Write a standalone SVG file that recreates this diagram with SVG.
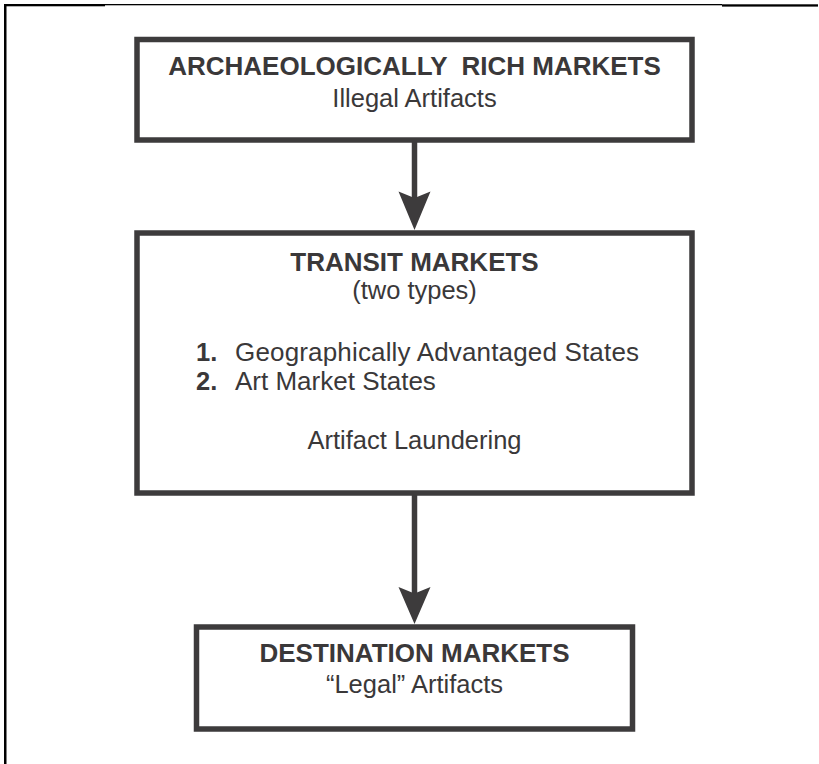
<svg xmlns="http://www.w3.org/2000/svg" width="819" height="764" viewBox="0 0 819 764">
<style>
.box{fill:#fff;stroke:#3d3b3c;stroke-width:5.5}
.b{font-family:"Liberation Sans",Arial,sans-serif;font-weight:bold;font-size:26px;fill:#3a3839;text-anchor:middle}
.n{font-family:"Liberation Sans",Arial,sans-serif;font-size:25.5px;fill:#3a3839;text-anchor:middle}
.l{font-family:"Liberation Sans",Arial,sans-serif;font-size:26px;fill:#3a3839}
.lb{font-family:"Liberation Sans",Arial,sans-serif;font-size:25.5px;font-weight:bold;fill:#3a3839}
.stem{stroke:#3d3b3c;stroke-width:5.5}
.head{fill:#3d3b3c}
</style>
<rect width="819" height="764" fill="#fff"/>
<g id="frame" fill="#000">
<rect x="4" y="4" width="2.5" height="760"/>
<rect x="4" y="4" width="101" height="2.3"/>
<rect x="105" y="4" width="617" height="1.3"/>
<rect x="722" y="4.3" width="96" height="2.3"/>
</g>
<g id="connectors">
<line class="stem" x1="414.5" y1="140" x2="414.5" y2="200"/>
<polygon class="head" points="414.5,230 398.5,191.5 414.5,198 430.5,191.5"/>
<line class="stem" x1="414.5" y1="493" x2="414.5" y2="595"/>
<polygon class="head" points="414.5,624 398.5,587 414.5,593.5 430.5,587"/>
</g>
<g id="node-archaeologically-rich">
<rect class="box" x="137" y="39.5" width="555" height="100.5"/>
<text class="b" x="414.5" y="75" style="white-space:pre">ARCHAEOLOGICALLY  RICH MARKETS</text>
<text class="n" x="414.5" y="107">Illegal Artifacts</text>
</g>
<g id="node-transit">
<rect class="box" x="137" y="233" width="555" height="260"/>
<text class="b" x="414.5" y="271">TRANSIT MARKETS</text>
<text class="n" x="414.5" y="299">(two types)</text>
<text class="lb" x="196" y="361">1.</text>
<text class="l" x="235" y="361" textLength="404" lengthAdjust="spacing">Geographically Advantaged States</text>
<text class="lb" x="196" y="390">2.</text>
<text class="l" x="235" y="390">Art Market States</text>
<text class="n" x="414.5" y="449">Artifact Laundering</text>
</g>
<g id="node-destination">
<rect class="box" x="196.5" y="627" width="436" height="102"/>
<text class="b" x="414.5" y="662">DESTINATION MARKETS</text>
<text class="n" x="414.5" y="693">“Legal” Artifacts</text>
</g>
</svg>
